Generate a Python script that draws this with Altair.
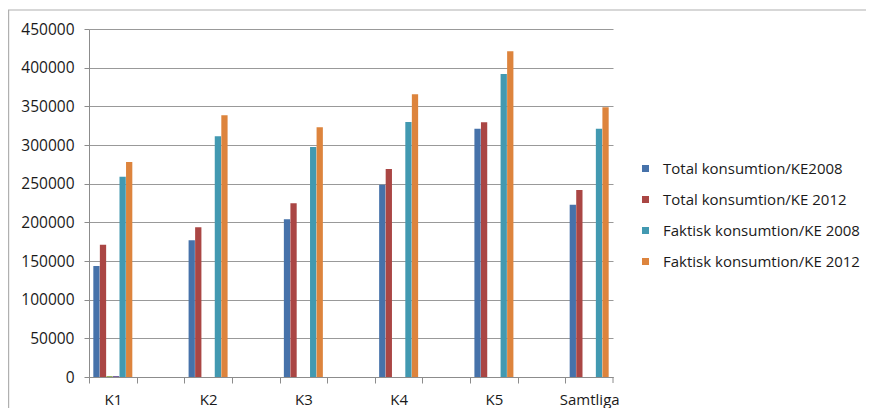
import altair as alt
import pandas as pd

slots = ["K1", "_a", "K2", "_b", "K3", "_c", "K4", "_d", "K5", "_e", "Samtliga"]
categories = ["K1", "K2", "K3", "K4", "K5", "Samtliga"]
series = ["Total konsumtion/KE2008", "Total konsumtion/KE 2012", "s3", "s4",
          "Faktisk konsumtion/KE 2008", "Faktisk konsumtion/KE 2012"]
legend_series = ["Total konsumtion/KE2008", "Total konsumtion/KE 2012",
                 "Faktisk konsumtion/KE 2008", "Faktisk konsumtion/KE 2012"]
colors = ["#4672AA", "#AA4644", "#8AA84F", "#71589A", "#4299B1", "#DD843D"]

total_2008 = [143500, 176700, 203900, 248700, 321100, 222800]
total_2012 = [171100, 193500, 224600, 269000, 329300, 241800]
s3_vals = [1200, 0, 0, 0, 0, 0]
s4_vals = [1200, 0, 0, 0, 0, 0]
faktisk_2008 = [259000, 311200, 297400, 329700, 391800, 321100]
faktisk_2012 = [278000, 338400, 322900, 365500, 421100, 348700]

rows = []
for i, c in enumerate(categories):
    for s, vals in zip(series, [total_2008, total_2012, s3_vals, s4_vals, faktisk_2008, faktisk_2012]):
        if vals[i] > 0:
            rows.append({"cat": c, "series": s, "value": vals[i]})
df = pd.DataFrame(rows)

FONT = "Open Sans"
W, H = 524, 348
PAD_L, PAD_T, PAD_R, PAD_B = 81, 21, 253, 31
STEP = W / len(slots)

bars = alt.Chart(df).mark_bar().encode(
    x=alt.X("cat:N", sort=slots,
            scale=alt.Scale(domain=slots, paddingInner=0, paddingOuter=0),
            axis=alt.Axis(title=None, labelAngle=0, tickSize=6, tickOffset=-STEP / 2,
                          labelOffset=STEP / 2,
                          labelExpr="indexof(datum.value, '_') == 0 ? '' : datum.value",
                          labelFont=FONT, labelFontSize=15, labelColor="#1a1a1a",
                          labelPadding=9, domainColor="#8c8c8c", tickColor="#8c8c8c",
                          grid=False)),
    xOffset=alt.XOffset("series:N",
                        scale=alt.Scale(domain=series, paddingInner=0.04, paddingOuter=0.66)),
    y=alt.Y("value:Q",
            scale=alt.Scale(domain=[0, 450000], nice=False),
            axis=alt.Axis(title=None, values=list(range(0, 450001, 50000)), format="d",
                          labelFont=FONT, labelFontSize=15.5, labelColor="#1a1a1a",
                          labelPadding=10, tickSize=5, tickColor="#8c8c8c",
                          domainColor="#8c8c8c", gridColor="#999999", gridWidth=1.2)),
    color=alt.Color("series:N",
                    scale=alt.Scale(domain=series, range=colors),
                    legend=alt.Legend(title=None, values=legend_series, orient="none",
                                      legendX=549, legendY=132, symbolType="square",
                                      symbolSize=49, symbolStrokeWidth=0,
                                      labelFont=FONT, labelFontSize=15, labelColor="#1a1a1a",
                                      labelOffset=10, rowPadding=15, labelLimit=300)),
)

border_df = pd.DataFrame({"k": [0]})
last_tick = alt.Chart(border_df).mark_rule(color="#8c8c8c", strokeWidth=1).encode(
    x=alt.value(W), y=alt.value(H), y2=alt.value(H + 6))
top_border = alt.Chart(border_df).mark_rule(color="#b0b0b0", strokeWidth=1.2).encode(
    x=alt.value(-PAD_L), x2=alt.value(W + PAD_R), y=alt.value(-19))
left_border = alt.Chart(border_df).mark_rule(color="#b0b0b0", strokeWidth=1.2).encode(
    x=alt.value(-PAD_L + 0.6), y=alt.value(-19), y2=alt.value(H + PAD_B))

chart = alt.layer(bars, last_tick, top_border, left_border).properties(
    width=W, height=H,
    autosize=alt.AutoSizeParams(type="none"),
    padding={"left": PAD_L, "top": PAD_T, "right": PAD_R, "bottom": PAD_B},
).configure_view(stroke=None)

chart.save("out.html", embed_options={"renderer": "svg", "actions": False})
